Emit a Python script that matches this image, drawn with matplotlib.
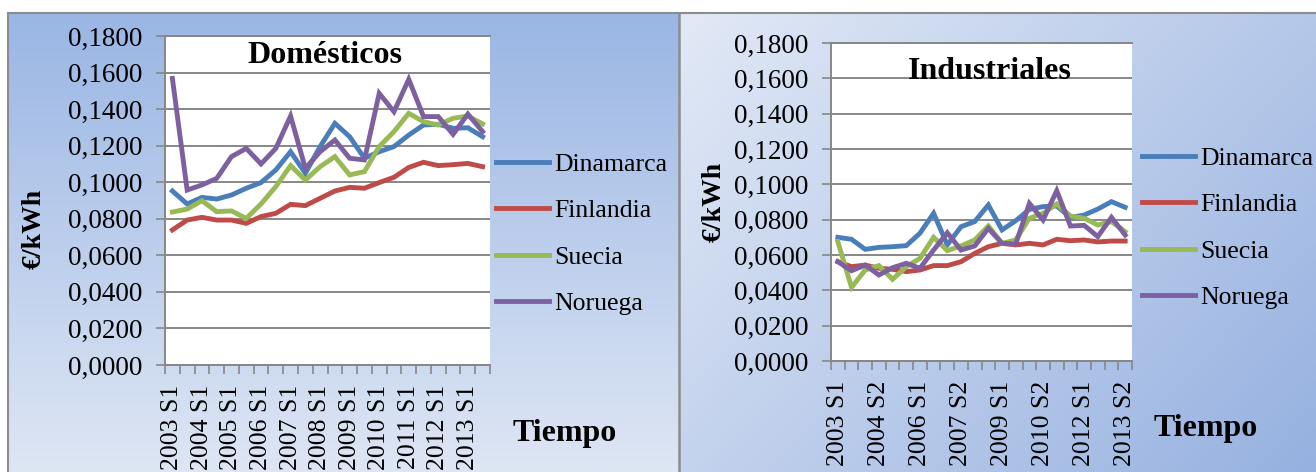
import numpy as np
import matplotlib.pyplot as plt
from matplotlib.colors import LinearSegmentedColormap
from matplotlib.ticker import FuncFormatter

plt.rcParams['font.family'] = ['Liberation Serif', 'DejaVu Serif']

W, H = 1316, 472

periodos = ['2003 S1', '2003 S2', '2004 S1', '2004 S2', '2005 S1', '2005 S2',
            '2006 S1', '2006 S2', '2007 S1', '2007 S2', '2008 S1', '2008 S2',
            '2009 S1', '2009 S2', '2010 S1', '2010 S2', '2011 S1', '2011 S2',
            '2012 S1', '2012 S2', '2013 S1', '2013 S2']
paises = ['Dinamarca', 'Finlandia', 'Suecia', 'Noruega']
colores = ['#4a7ebb', '#be4b48', '#98b954', '#7d60a0']

# Domésticos (€/kWh)
dom_dinamarca = [0.0952, 0.0881, 0.0917, 0.0908, 0.0930, 0.0967, 0.0998, 0.1067,
                 0.1167, 0.1049, 0.1195, 0.1322, 0.1249, 0.1131, 0.1167, 0.1195,
                 0.1258, 0.1313, 0.1317, 0.1295, 0.1298, 0.1249]
dom_finlandia = [0.0739, 0.0793, 0.0808, 0.0793, 0.0793, 0.0775, 0.0812, 0.0830,
                 0.0879, 0.0872, 0.0912, 0.0952, 0.0972, 0.0967, 0.0998, 0.1027,
                 0.1081, 0.1109, 0.1091, 0.1096, 0.1103, 0.1085]
dom_suecia = [0.0837, 0.0853, 0.0899, 0.0839, 0.0843, 0.0802, 0.0881, 0.0976,
              0.1091, 0.1012, 0.1085, 0.1140, 0.1040, 0.1058, 0.1195, 0.1277,
              0.1377, 0.1331, 0.1313, 0.1350, 0.1362, 0.1319]
dom_noruega = [0.1568, 0.0957, 0.0985, 0.1021, 0.1140, 0.1185, 0.1100, 0.1185,
               0.1362, 0.1076, 0.1167, 0.1231, 0.1131, 0.1122, 0.1486, 0.1386,
               0.1563, 0.1359, 0.1359, 0.1262, 0.1373, 0.1277]

# Industriales (€/kWh)
ind_dinamarca = [0.0700, 0.0689, 0.0632, 0.0643, 0.0647, 0.0653, 0.0723, 0.0836,
                 0.0657, 0.0760, 0.0789, 0.0883, 0.0742, 0.0794, 0.0858, 0.0874,
                 0.0877, 0.0813, 0.0826, 0.0860, 0.0902, 0.0870]
ind_finlandia = [0.0562, 0.0534, 0.0543, 0.0525, 0.0519, 0.0506, 0.0515, 0.0540,
                 0.0540, 0.0562, 0.0609, 0.0647, 0.0666, 0.0657, 0.0666, 0.0657,
                 0.0689, 0.0681, 0.0685, 0.0674, 0.0679, 0.0679]
ind_suecia = [0.0675, 0.0417, 0.0515, 0.0540, 0.0462, 0.0534, 0.0581, 0.0700,
              0.0625, 0.0651, 0.0685, 0.0764, 0.0666, 0.0685, 0.0808, 0.0836,
              0.0889, 0.0821, 0.0808, 0.0770, 0.0789, 0.0732]
ind_noruega = [0.0562, 0.0511, 0.0543, 0.0487, 0.0528, 0.0553, 0.0525, 0.0628,
               0.0726, 0.0628, 0.0651, 0.0751, 0.0666, 0.0662, 0.0892, 0.0798,
               0.0964, 0.0764, 0.0768, 0.0704, 0.0813, 0.0713]

etiquetas_dom = [0, 2, 4, 6, 8, 10, 12, 14, 16, 18, 20]
etiquetas_ind = [0, 3, 6, 9, 12, 15, 18, 21]

GRIS = '#878787'


def px_rect(x0, y0, x1, y1):
    return [x0 / W, 1 - y1 / H, (x1 - x0) / W, (y1 - y0) / H]


fig = plt.figure(figsize=(W / 100, H / 100), dpi=100)

# background panels with gradient
bg = fig.add_axes([0, 0, 1, 1])
bg.set_xlim(0, W)
bg.set_ylim(H, 0)
bg.axis('off')

cm_izq = LinearSegmentedColormap.from_list('izq', ['#9ab6e4', '#dee6f4'])
grad_v = np.linspace(0, 1, 256).reshape(-1, 1)
bg.imshow(grad_v, cmap=cm_izq, extent=(8, 679, H, 13), aspect='auto')

cm_der = LinearSegmentedColormap.from_list('der', ['#e2e9f6', '#96b1e0'])
gx, gy = np.meshgrid(np.linspace(0, 1, 200), np.linspace(0, 1, 200))
bg.imshow((gx * 0.6 + gy * 0.4), cmap=cm_der, extent=(680, W, H, 13), aspect='auto')

bg.plot([8, W], [13, 13], color='#8c8c8c', lw=1.5)
bg.plot([8, 8], [13, H], color='#8c8c8c', lw=1.5)
bg.plot([679, 679], [13, H], color='#8c8c8c', lw=1.8)


def panel(rect, series, idx, titulo, titulo_xy, tiempo_xy, ylab_xy, leg_xy):
    ax = fig.add_axes(px_rect(*rect))
    ax.set_facecolor('white')
    x = np.arange(len(periodos))
    for vals, nombre, c in zip(series, paises, colores):
        ax.plot(x, vals, color=c, lw=3.5, label=nombre, solid_joinstyle='miter')
    ax.set_xlim(-0.5, len(periodos) - 0.5)
    ax.set_ylim(0, 0.18)
    ax.set_yticks(np.arange(0, 0.181, 0.02))
    ax.yaxis.set_major_formatter(FuncFormatter(lambda v, p: f'{v:.4f}'.replace('.', ',')))
    ax.set_xticks(idx)
    ax.set_xticklabels([periodos[i] for i in idx], rotation=90)
    ax.set_xticks(np.arange(-0.5, len(periodos)), minor=True)
    ax.tick_params(axis='x', which='major', length=0, pad=14, labelsize=18.5)
    ax.tick_params(axis='x', which='minor', length=6.5, width=1.2, color=GRIS)
    ax.tick_params(axis='y', length=6.5, width=1.2, color=GRIS, pad=10, labelsize=19.5)
    ax.grid(axis='y', color=GRIS, lw=1.4)
    ax.set_axisbelow(True)
    for s in ['left', 'bottom', 'top']:
        ax.spines[s].set_color(GRIS)
        ax.spines[s].set_linewidth(1.4)
    ax.spines['right'].set_visible(False)

    fig.text(titulo_xy[0] / W, 1 - titulo_xy[1] / H, titulo, ha='center',
             va='baseline', fontsize=23, fontweight='bold')
    fig.text(tiempo_xy[0] / W, 1 - tiempo_xy[1] / H, 'Tiempo', ha='center',
             va='baseline', fontsize=23, fontweight='bold')
    fig.text(ylab_xy[0] / W, 1 - ylab_xy[1] / H, '€/kWh', ha='center',
             va='center', rotation=90, fontsize=20, fontweight='bold')
    ax.legend(loc='center left', bbox_to_anchor=(leg_xy[0] / W, 1 - leg_xy[1] / H),
              bbox_transform=fig.transFigure, frameon=False, fontsize=18.5,
              handlelength=2.05, handletextpad=0.2, labelspacing=0.91,
              borderpad=0, borderaxespad=0)
    return ax


panel((165, 36, 490, 365), [dom_dinamarca, dom_finlandia, dom_suecia, dom_noruega],
      etiquetas_dom, 'Domésticos', (325, 63), (565, 441), (34, 229), (496, 234))
panel((831, 43, 1132, 361), [ind_dinamarca, ind_finlandia, ind_suecia, ind_noruega],
      etiquetas_ind, 'Industriales', (990, 79), (1206, 436), (714, 202), (1142, 228))

fig.savefig('out.png', dpi=100)
